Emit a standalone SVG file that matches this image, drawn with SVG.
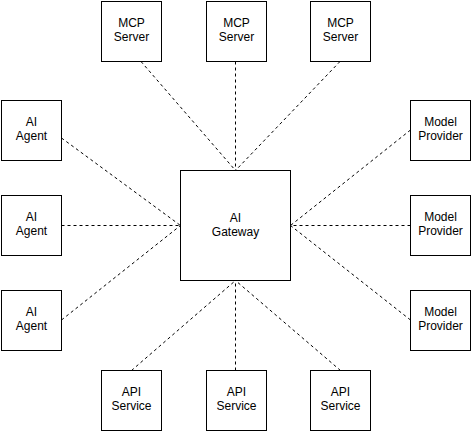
<svg xmlns="http://www.w3.org/2000/svg" width="472" height="432" viewBox="0 0 472 432">
<style>
.box{fill:#fff;stroke:#000;stroke-width:1}
.t{font-family:"Liberation Sans",Arial,sans-serif;font-size:12px;fill:#000;text-anchor:middle}
.c{fill:none;stroke:#000;stroke-width:1;stroke-dasharray:3 3}
</style>
<rect width="472" height="432" fill="#fff"/>
<g id="connectors">
<path class="c" d="M141 61.5L235.5 170.5"/>
<path class="c" d="M235.5 61.5L235.5 170.5"/>
<path class="c" d="M340 61.5L235.5 170.5"/>
<path class="c" d="M61.5 138L180.5 225.5"/>
<path class="c" d="M61.5 225.5L180.5 225.5"/>
<path class="c" d="M61.5 320L180.5 225.5"/>
<path class="c" d="M410.5 130L290.5 225.5"/>
<path class="c" d="M410.5 225.5L290.5 225.5"/>
<path class="c" d="M410.5 320L290.5 225.5"/>
<path class="c" d="M131.5 370.5L235.5 280.5"/>
<path class="c" d="M235.5 370.5L235.5 280.5"/>
<path class="c" d="M340.5 370.5L235.5 280.5"/>
</g>
<g id="gateway"><rect class="box" x="180.5" y="170.5" width="110" height="110"/><text class="t" x="235.5" y="221.5">AI</text><text class="t" x="235.5" y="236">Gateway</text></g>
<g id="mcp1"><rect class="box" x="101.5" y="1.5" width="60" height="60"/><text class="t" x="131.5" y="27">MCP</text><text class="t" x="131.5" y="41">Server</text></g>
<g id="mcp2"><rect class="box" x="206.5" y="1.5" width="60" height="60"/><text class="t" x="236.5" y="27">MCP</text><text class="t" x="236.5" y="41">Server</text></g>
<g id="mcp3"><rect class="box" x="310.5" y="1.5" width="60" height="60"/><text class="t" x="340.5" y="27">MCP</text><text class="t" x="340.5" y="41">Server</text></g>
<g id="agent1"><rect class="box" x="1.5" y="100.5" width="60" height="60"/><text class="t" x="31.5" y="126">AI</text><text class="t" x="31.5" y="140">Agent</text></g>
<g id="agent2"><rect class="box" x="1.5" y="195.5" width="60" height="60"/><text class="t" x="31.5" y="221">AI</text><text class="t" x="31.5" y="235">Agent</text></g>
<g id="agent3"><rect class="box" x="1.5" y="290.5" width="60" height="60"/><text class="t" x="31.5" y="316">AI</text><text class="t" x="31.5" y="330">Agent</text></g>
<g id="model1"><rect class="box" x="410.5" y="100.5" width="60" height="60"/><text class="t" x="440.5" y="126">Model</text><text class="t" x="440.5" y="140">Provider</text></g>
<g id="model2"><rect class="box" x="410.5" y="195.5" width="60" height="60"/><text class="t" x="440.5" y="221">Model</text><text class="t" x="440.5" y="235">Provider</text></g>
<g id="model3"><rect class="box" x="410.5" y="290.5" width="60" height="60"/><text class="t" x="440.5" y="316">Model</text><text class="t" x="440.5" y="330">Provider</text></g>
<g id="api1"><rect class="box" x="101.5" y="370.5" width="60" height="60"/><text class="t" x="131.5" y="396">API</text><text class="t" x="131.5" y="410">Service</text></g>
<g id="api2"><rect class="box" x="206.5" y="370.5" width="60" height="60"/><text class="t" x="236.5" y="396">API</text><text class="t" x="236.5" y="410">Service</text></g>
<g id="api3"><rect class="box" x="310.5" y="370.5" width="60" height="60"/><text class="t" x="340.5" y="396">API</text><text class="t" x="340.5" y="410">Service</text></g>
</svg>
